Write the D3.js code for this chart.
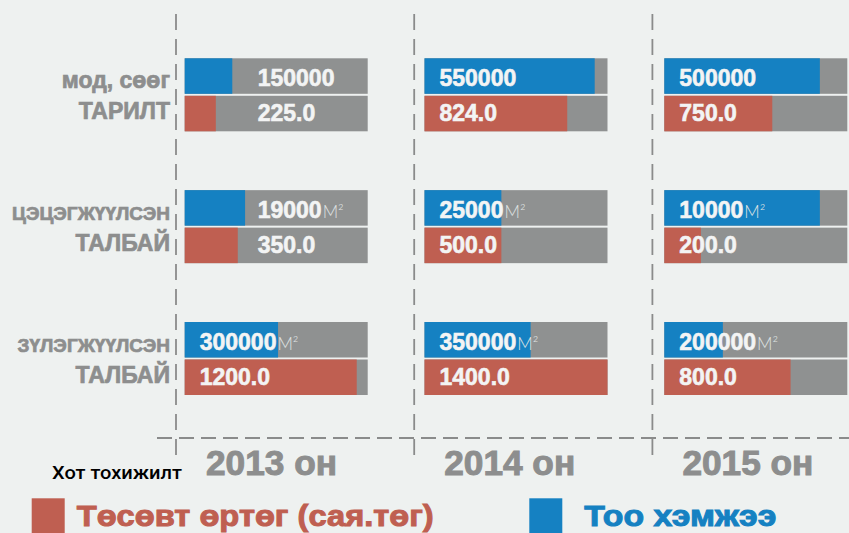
<!DOCTYPE html>
<html lang="mn">
  <head>
    <meta charset="UTF-8" />
    <title>Хот тохижилт</title>
    <script src="https://cdnjs.cloudflare.com/ajax/libs/d3/7.8.5/d3.min.js"></script>
    <style>
      body { margin: 0; background: #eef1f0; }
      svg { display: block; }
    </style>
  </head>
  <body>
    <div id="content"></div>
    <script>
    // ---- data ----
    const years = ["2013", "2014", "2015"]
    const categories = ["tarilt", "tsetseg", "zuleg"]
    const categoryLines = [["мод, сөөг", "ТАРИЛТ"], ["ЦЭЦЭГЖҮҮЛСЭН", "ТАЛБАЙ"], ["ЗҮЛЭГЖҮҮЛСЭН", "ТАЛБАЙ"]]
    const units = ["", "М²", "М²"]
    // Too hemjee (blue) - label text and filled share of the bar (%)
    const qtyLabels = [["150000", "550000", "500000"], ["19000", "25000", "10000"], ["300000", "350000", "200000"]]
    const qtyFill = [[26, 93, 85], [33, 42, 85], [51, 58, 32]]
    // Tosovt ortog (red)
    const costLabels = [["225.0", "824.0", "750.0"], ["350.0", "500.0", "200.0"], ["1200.0", "1400.0", "800.0"]]
    const costFill = [[17, 78, 59], [29, 42, 20], [94, 100, 69]]
    const legendItems = ["Төсөвт өртөг (сая.төг)", "Тоо хэмжээ"]

    const W = 849, H = 533
    const blue = "#1581c2", red = "#bf5f51", track = "#8f9191", labelGrey = "#8d8e8e"
    const font = "'Liberation Sans', Arial, sans-serif"

    const svg = d3.select("#content").append("svg").attr("width", W).attr("height", H)
    svg.append("rect").attr("width", W).attr("height", H).attr("fill", "#eef1f0")

    // dashed dividers, bar columns and rows
    const xDiv = d3.scaleBand().domain(years).range([176, 176 + 238.2 * 3])
    const x = d3.scaleBand().domain(years).range([184.7, 184.7 + 239.8 * 3])
    const y = d3.scalePoint().domain(categories).range([58.3, 322])
    const fillW = d3.scaleLinear().domain([0, 100]).range([0, 183])
    const barH = 35.5, gap = 2

    function heavy(sel, color, w) {
        sel.style("fill", color).style("stroke", color).style("stroke-width", w)
            .style("paint-order", "stroke")
    }

    // dashed grid
    years.forEach(function (yr) {
        svg.append("line")
            .attr("x1", xDiv(yr)).attr("x2", xDiv(yr))
            .attr("y1", 14).attr("y2", 460)
            .attr("stroke", "#8a8b8b").attr("stroke-width", 1.8)
            .attr("stroke-dasharray", "16,9")
    })
    svg.append("line")
        .attr("x1", 157).attr("x2", W)
        .attr("y1", 438).attr("y2", 438)
        .attr("stroke", "#8a8b8b").attr("stroke-width", 1.8)
        .attr("stroke-dasharray", "15,7")

    // category labels
    categories.forEach(function (c, i) {
        const t = svg.append("text")
            .attr("text-anchor", "end")
            .style("font-family", font).style("font-weight", "bold")
        heavy(t, labelGrey, 0.7)
        t.append("tspan")
            .attr("x", 170).attr("y", y(c) + 30)
            .style("font-size", i === 0 ? "23px" : "19px")
            .text(categoryLines[i][0])
        t.append("tspan")
            .attr("x", 170).attr("y", y(c) + 61)
            .style("font-size", "23px")
            .text(categoryLines[i][1])
    })

    // bars
    categories.forEach(function (c, i) {
        years.forEach(function (yr, j) {
            const x0 = x(yr)
            const rows = [
                { top: y(c), color: blue, fill: qtyFill[i][j], label: qtyLabels[i][j], unit: units[i], base: 28 },
                { top: y(c) + barH + gap, color: red, fill: costFill[i][j], label: costLabels[i][j], unit: "", base: 25 }
            ]
            rows.forEach(function (r) {
                svg.append("rect")
                    .attr("x", x0).attr("y", r.top)
                    .attr("width", fillW(100)).attr("height", barH)
                    .attr("fill", track)
                svg.append("rect")
                    .attr("x", x0).attr("y", r.top)
                    .attr("width", fillW(r.fill)).attr("height", barH)
                    .attr("fill", r.color)
                // first two rows of 2013 have the number pushed into the grey part
                const lx = (j === 0 && i < 2) ? 73 : 15
                const t = svg.append("text")
                    .attr("x", x0 + lx).attr("y", r.top + r.base)
                    .style("font-family", font)
                const num = t.append("tspan")
                    .style("font-size", "23px").style("font-weight", "bold")
                    .text(r.label)
                heavy(num, "#f3f4f4", 0.6)
                if (r.unit) {
                    t.append("tspan")
                        .attr("dx", 1)
                        .style("font-size", "17px").style("font-weight", "300")
                        .style("font-family", "Lato, 'Open Sans', sans-serif")
                        .style("fill", "#dfe2e2")
                        .text(r.unit)
                }
            })
        })
    })

    // year labels
    years.forEach(function (yr) {
        const t = svg.append("text")
            .attr("x", xDiv(yr) + 30).attr("y", 475)
            .attr("textLength", 131).attr("lengthAdjust", "spacingAndGlyphs")
            .style("font-family", font).style("font-weight", "bold")
            .style("font-size", "35px")
            .text(yr + " он")
        heavy(t, labelGrey, 1)
    })

    // title
    svg.append("text")
        .attr("x", 52).attr("y", 479)
        .attr("textLength", 130).attr("lengthAdjust", "spacingAndGlyphs")
        .style("font-family", "Roboto, sans-serif").style("font-weight", "500")
        .style("font-size", "19px").style("fill", "#000")
        .text("Хот тохижилт")

    // legend
    const legendX = [31.7, 529.3]
    const legendTextX = [76.7, 584.3]
    const legendTextW = [357, 192]
    const legendColor = [red, blue]
    legendItems.forEach(function (name, k) {
        svg.append("rect")
            .attr("x", legendX[k]).attr("y", 498.3)
            .attr("width", 33).attr("height", 40)
            .attr("fill", legendColor[k])
        const t = svg.append("text")
            .attr("x", legendTextX[k]).attr("y", 526)
            .attr("textLength", legendTextW[k]).attr("lengthAdjust", "spacingAndGlyphs")
            .style("font-family", font).style("font-weight", "bold")
            .style("font-size", "30px")
            .text(name)
        heavy(t, legendColor[k], 1)
    })
    </script>
  </body>
</html>
